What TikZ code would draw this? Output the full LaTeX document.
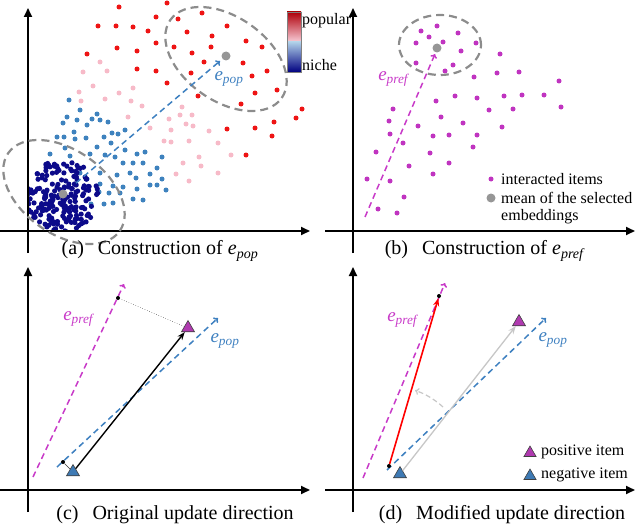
\documentclass[tikz,border=0pt]{standalone}
\usepackage{fontspec}
\setmainfont{Liberation Serif}
\usetikzlibrary{arrows.meta,shapes.geometric}

\definecolor{popred}{RGB}{238,20,20}
\definecolor{poppink}{RGB}{247,186,200}
\definecolor{popblue}{RGB}{62,130,190}
\definecolor{popnavy}{RGB}{12,10,138}
\definecolor{prefdot}{RGB}{192,52,192}
\definecolor{prefline}{RGB}{200,58,200}
\definecolor{popline}{RGB}{62,128,192}
\definecolor{meangray}{RGB}{150,150,150}
\definecolor{ringgray}{RGB}{140,140,140}
\definecolor{postri}{RGB}{176,58,176}
\definecolor{negtri}{RGB}{62,122,180}
\definecolor{cbtop}{RGB}{175,0,10}
\definecolor{cbupmid}{RGB}{236,100,118}
\definecolor{cbup}{RGB}{248,205,216}
\definecolor{cblow}{RGB}{176,208,232}
\definecolor{cblowmid}{RGB}{80,130,195}
\definecolor{cbbot}{RGB}{0,0,128}

\newcommand{\evec}[1]{\textit{e}\textsubscript{\textit{#1}}}

\begin{document}
\begin{tikzpicture}[x=1pt,y=-1pt,
  axisline/.style={line width=1.8pt,-{Triangle[length=9pt,width=8pt]}},
  ring/.style={draw=ringgray,line width=2.2pt,dash pattern=on 8pt off 5pt},
  poparrow/.style={draw=popline,line width=1.5pt,dash pattern=on 6pt off 4pt,-{To[length=4pt,width=7pt]}},
  prefarrow/.style={draw=prefline,line width=1.5pt,dash pattern=on 6pt off 4pt,-{To[length=4pt,width=7pt]}},
  meandot/.style={circle,fill=meangray,inner sep=0pt,minimum size=9pt},
  tinydot/.style={circle,fill=black,inner sep=0pt,minimum size=4pt},
  itemtri/.style={regular polygon,regular polygon sides=3,draw=black!75,line width=0.6pt,inner sep=0pt,minimum size=15pt},
  captxt/.style={font=\fontsize{20}{24}\selectfont},
  legtxt/.style={font=\fontsize{16}{19}\selectfont,anchor=west,inner sep=1pt},
  veclabel/.style={font=\fontsize{19}{22}\selectfont}]
\useasboundingbox (0,0) rectangle (640,527);

\foreach \dx/\dy/\p in {0/0/a,325/0/b,0/259/c,325/259/d}{
  \coordinate (\p-yb) at (28+\dx,253+\dy);
  \coordinate (\p-yt) at (28+\dx,8+\dy);
  \coordinate (\p-xl) at (0+\dx,231+\dy);
  \coordinate (\p-xr) at (310+\dx,231+\dy);
  \draw[axisline] (\p-yb) -- (\p-yt);
  \draw[axisline] (\p-xl) -- (\p-xr);
}

\foreach \x/\y in {119/7,167/3,202/13,98/26,116/26,133/27,148/31,156/17,178/19,187/32,227/26,212/36,156/43,117/48,137/51,87/54,174/47,192/53,211/47,246/41,204/62,243/63,137/69,156/71,191/73,267/71,252/76,167/83,277/90,255/93,198/96,241/104,302/109,296/118,274/122,255/128,227/129,272/136,246/155,262/47}
  \fill[popred] (\x,\y) circle[radius=2.5pt];
\foreach \x/\y in {107/71,83/72,100/62,93/86,79/92,133/88,119/93,81/101,105/99,131/101,142/106,182/107,192/115,180/115,128/117,169/119,150/128,171/130,186/124,193/126,209/131,164/141,171/142,189/141,218/143,199/157,231/155,183/163,201/166,218/173,176/174,189/181}
  \fill[poppink] (\x,\y) circle[radius=2.5pt];
\foreach \x/\y in {69/100,80/110,97/114,92/119,67/117,77/120,63/123,87/125,74/132,100/120,108/122,57/137,64/137,75/139,86/138,97/147,104/137,112/133,118/134,125/130,65/148,50/154,70/156,90/154,105/155,115/157,125/150,137/154,145/152,162/157,111/143,123/163,133/163,143/163,157/168,80/173,100/173,117/175,130/173,136/178,150/174,162/179,100/184,113/186,123/187,137/189,150/185,157/185,166/190,99/192,109/193,120/193,133/199,143/200,91/204,104/204,113/203,87/179}
  \fill[popblue] (\x,\y) circle[radius=2.5pt];
\pgfmathsetseed{42}
\begin{scope}
  \clip (29,150) rectangle (110,229);
  \foreach \k in {1,...,190}{
    \pgfmathsetmacro{\rr}{36*sqrt(rnd)}
    \pgfmathsetmacro{\aa}{360*rnd}
    \fill[popnavy] (62,196) ++(\aa:\rr) circle[radius=2.6pt];
  }
\end{scope}

\draw[ring,rotate around={-35:(226,59)}] (226,59) ellipse[x radius=68pt,y radius=42pt];
\draw[ring,rotate around={-35:(64,192)}] (64,192) ellipse[x radius=68pt,y radius=42pt];
\node[meandot] (meanpop) at (226,56) {};
\node[meandot] (meanniche) at (63,194) {};
\coordinate (popA-s) at (76,183);
\coordinate (popA-e) at (220,61);
\draw[poparrow] (popA-s) -- (popA-e);
\node[veclabel,text=popline] (popA-l) at (229,79) {\evec{pop}};

\coordinate (cb-b) at (287,72);
\coordinate (cb-m) at (301,42);
\coordinate (cb-t) at (301,12);
\shade[top color=cbtop,middle color=cbupmid,bottom color=cbup] (287,12) rectangle (cb-m);
\shade[top color=cblow,middle color=cblowmid,bottom color=cbbot] (cb-b) rectangle (cb-m);
\draw[gray,line width=0.6pt] (cb-b) rectangle (cb-t);
\node[legtxt] (cbpop) at (301,21) {popular};
\node[legtxt] (cbniche) at (301,65) {niche};

\node[captxt] (capa) at (160,251) {(a)\hspace{0.7em}Construction of \evec{pop}};

\foreach \x/\y in {421/31,437/26,429/37,458/33,416/43,443/42,476/43,461/51,416/63,445/71,453/65,500/54,474/77,497/73,519/72,559/81,436/101,455/96,477/98,504/96,522/95,544/95,561/107,393/109,489/110,513/109,389/121,441/117,418/126,463/123,502/127,390/134,433/136,449/135,477/135,403/143,473/147,376/152,430/153,409/166,449/163,367/179,390/181,433/174,404/197,378/209,397/213}
  \fill[prefdot] (\x,\y) circle[radius=2.5pt];
\draw[ring] (440,45) ellipse[x radius=41pt,y radius=30pt];
\node[meandot] (meanpref) at (437,48) {};
\coordinate (prefB-s) at (365,217);
\coordinate (prefB-e) at (435,54);
\draw[prefarrow] (prefB-s) -- (prefB-e);
\node[veclabel,text=prefline] (prefB-l) at (394,79) {\evec{pref}};

\fill[prefdot] (491,179) circle[radius=2.5pt];
\node[legtxt] (legitems) at (500,179) {interacted items};
\node[meandot] (legmean) at (491,198) {};
\node[legtxt] (legmeana) at (500,198) {mean of the selected};
\node[legtxt] (legmeanb) at (500,217) {embeddings};

\node[captxt] (capb) at (485,251) {(b)\hspace{0.7em}Construction of \evec{pref}};

\coordinate (prefC-s) at (33,477);
\coordinate (prefC-e) at (124,284);
\coordinate (popC-s) at (57,467);
\coordinate (popC-e) at (218,318);
\draw[prefarrow] (prefC-s) -- (prefC-e);
\draw[poparrow] (popC-s) -- (popC-e);
\node[veclabel,text=prefline] (prefC-l) at (79,319) {\evec{pref}};
\node[veclabel,text=popline] (popC-l) at (225,341) {\evec{pop}};
\node[itemtri,fill=postri] (posC) at (188,328) {};
\node[itemtri,fill=negtri] (negC) at (73,472) {};
\node[tinydot] (projposC) at (118,298) {};
\node[tinydot] (projnegC) at (63,462) {};
\draw[black!80,line width=0.5pt,dotted] (posC) -- (projposC);
\draw[black!80,line width=0.5pt] (negC) -- (projnegC);
\draw[line width=1.4pt,-{Stealth[length=8pt,width=6pt]}] (negC) -- (posC);

\node[captxt] (capc) at (175,515) {(c)\hspace{0.7em}Original update direction};

\coordinate (prefD-s) at (363,478);
\coordinate (prefD-e) at (445,283);
\coordinate (popD-s) at (387,470);
\coordinate (popD-e) at (546,318);
\draw[prefarrow] (prefD-s) -- (prefD-e);
\draw[poparrow] (popD-s) -- (popD-e);
\node[veclabel,text=prefline] (prefD-l) at (403,320) {\evec{pref}};
\node[veclabel,text=popline] (popD-l) at (553,340) {\evec{pop}};
\node[itemtri,fill=postri] (posD) at (519,322) {};
\node[itemtri,fill=negtri] (negD) at (400,474) {};
\draw[black!22,line width=1.3pt,-{Stealth[length=8pt,width=6pt]}] (negD) -- (posD);
\coordinate (turn-s) at (443,407);
\draw[black!22,line width=1.2pt,dash pattern=on 5pt off 3pt,-{To[length=4pt,width=7pt]}] (turn-s) arc[start angle=47.5,end angle=71,radius=80pt];
\node[tinydot] (startD) at (389,466) {};
\node[tinydot] (endD) at (439,296) {};
\draw[red,line width=1.6pt,-{Stealth[length=8pt,width=6pt]}] (startD) -- (endD);

\node[itemtri,fill=postri,minimum size=14pt] (legpos) at (530,453) {};
\node[legtxt] (legpostxt) at (540,452) {positive item};
\node[itemtri,fill=negtri,minimum size=14pt] (legneg) at (530,476) {};
\node[legtxt] (legnegtxt) at (540,475) {negative item};

\node[captxt] (capd) at (502,515) {(d)\hspace{0.7em}Modified update direction};
\end{tikzpicture}
\end{document}
